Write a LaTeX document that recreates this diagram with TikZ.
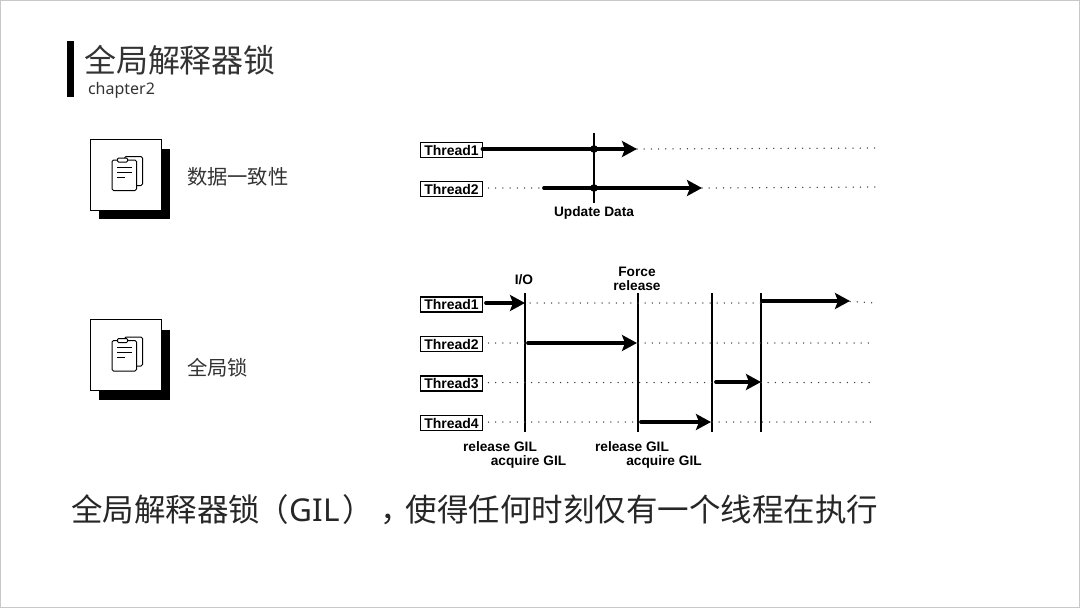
\documentclass[tikz,border=0pt]{standalone}
\usepackage{fontspec}
\setmainfont{Liberation Sans}
\newfontfamily\cjk{Noto Sans CJK SC}
\newfontfamily\latn{Noto Sans}
\usetikzlibrary{positioning,arrows.meta,calc}
\definecolor{ctitle}{HTML}{333333}
\definecolor{cedge}{HTML}{c8c8c8}
\tikzset{
  pics/clipdoc/.style={code={
    \draw[line width=1pt, rounded corners=1.5pt] (-1,-17) -- (-1,-18) -- (17,-18) -- (17,11) -- (11,11);
    \draw[line width=1pt, rounded corners=1.5pt, fill=white] (-13.5,-14.5) rectangle (11,16);
    \draw[line width=1pt, rounded corners=1pt, fill=white] (-8,-16.5) rectangle (2,-12.5);
    \draw[line width=1pt] (-8.5,-7.5) -- (6,-7.5) (-8.5,-2.5) -- (6,-2.5) (-8.5,2.5) -- (-1,2.5);
  }}
}
\begin{document}
\begin{tikzpicture}[x=1pt, y=-1pt, every node/.style={inner sep=0pt, outer sep=0pt},
    thread/.style={draw, line width=1.7pt, minimum width=62pt, minimum height=15pt, font=\fontsize{14}{14}\selectfont\bfseries},
    note/.style={font=\fontsize{13.7}{15}\selectfont\bfseries, align=center},
    label/.style={font=\fontsize{20.3}{22}\selectfont\cjk, text=ctitle, anchor=west},
    card/.style={draw, line width=.7pt, fill=white, minimum width=71pt, minimum height=71pt},
    cardshadow/.style={fill=black, minimum width=71pt, minimum height=70pt},
    run/.style={-{Stealth[length=15pt,width=16pt,inset=3pt]}, line width=3.8pt, line cap=round},
    idle/.style={line width=1.5pt, line cap=round, black!75, dash pattern=on 0pt off 7.2pt},
    switch/.style={line width=1.2pt}]
  \useasboundingbox (0,0) rectangle (1080,608);
  \draw[cedge, line width=2pt] (0,0) rectangle (1080,608);
  \fill (67,41) rectangle (74,97);
  \node[font=\fontsize{32}{34}\selectfont\cjk, text=ctitle, anchor=west] (title) at (84,60) {全局解释器锁};
  \node[font=\fontsize{16}{18}\selectfont\latn, text=ctitle, anchor=west] (chapter) at (88,90) {chapter2};
  % cards
  \node[cardshadow] (shadowa) at (134.5,184) {};
  \node[card] (carda) at (125.5,174.5) {};
  \pic at (carda.center) {clipdoc};
  \node[label, right=26pt of carda, yshift=-2pt] (consist) {数据一致性};
  \node[cardshadow] (shadowb) at (134.5,365) {};
  \node[card] (cardb) at (125.5,355) {};
  \pic at (cardb.center) {clipdoc};
  \node[label, right=26pt of cardb, yshift=-13pt] (gillock) {全局锁};
  % upper timeline
  \node[thread] (ta) at (451.5,150) {Thread1};
  \node[thread] (tb) at (451.5,189) {Thread2};
  \coordinate (ua) at (594,133);
  \coordinate (ub) at (594,203);
  \coordinate (taend) at (637,149);
  \coordinate (tbstart) at (544,188);
  \coordinate (tbend) at (702,188);
  \coordinate (eaend) at (880,148);
  \coordinate (ebend) at (880,187);
  \draw[idle] (taend) -- (eaend);
  \draw[idle] ($(tb.east |- tbstart)+(6,0)$) -- (tbstart);
  \draw[idle] (tbend) -- (ebend);
  \draw[run] (ta.east |- taend) -- (taend);
  \draw[run] (tbstart) -- (tbend);
  \draw[switch] (ua) -- (ub);
  \fill (ua |- taend) circle (3.8pt);
  \fill (ua |- tbend) circle (3.8pt);
  \node[note, below=4pt of ub] (update) {Update Data};
  % lower timeline
  \node[thread] (t1) at (451.5,304.5) {Thread1};
  \node[thread] (t2) at (451.5,344) {Thread2};
  \node[thread] (t3) at (451.5,383.5) {Thread3};
  \node[thread] (t4) at (451.5,423) {Thread4};
  \foreach \name/\x in {sa/525,sb/638,sc/712,sd/761}{
    \coordinate (\name-top) at (\x,293);
    \coordinate (\name-bot) at (\x,432);
    \draw[switch] (\name-top) -- (\name-bot);
  }
  \foreach \name/\y in {la/303,lb/343,lc/382.5,ld/422}{
    \coordinate (\name-end) at (875,\y);
  }
  \draw[idle] ($(sa-top |- la-end)+(5,0)$) -- (sd-top |- la-end);
  \draw[idle] (850,301.5) -- (la-end);
  \draw[idle] ($(t2.east |- lb-end)+(6,0)$) -- (sa-top |- lb-end);
  \draw[idle] (sb-top |- lb-end) -- (lb-end);
  \draw[idle] ($(t3.east |- lc-end)+(6,0)$) -- (sc-top |- lc-end);
  \draw[idle] (sd-top |- lc-end) -- (lc-end);
  \draw[idle] ($(t4.east |- ld-end)+(6,0)$) -- (sb-top |- ld-end);
  \draw[idle] (sc-top |- ld-end) -- (ld-end);
  \draw[run] (486,303) -- (sa-top |- 0,303);
  \draw[run] (528,343) -- (637,343);
  \draw[run] (716,382) -- (sd-top |- 0,382);
  \draw[run] (641,422) -- (711,422);
  \draw[run] (762,301) -- (850,301);
  \node[note] (io) at (524,280) {I/O};
  \node[note, text width=60pt] (force) at (637,278.5) {Force\\[-1pt]release};
  \node[note] (relone) at (500,447) {release GIL};
  \node[note] (acqone) at (528.5,462) {acquire GIL};
  \node[note] (reltwo) at (632,447) {release GIL};
  \node[note] (acqtwo) at (664,462) {acquire GIL};
  % caption
  \node[font=\fontsize{31.5}{34}\selectfont\cjk, text=black!85, anchor=west] (caption) at (71,510) {全局解释器锁\hspace{-3pt}（\hspace{1pt}{\latn GIL}\hspace{3pt}）\hspace{6pt}，\hspace{-6pt}使得任何时刻仅有一个线程在执行};
\end{tikzpicture}
\end{document}
